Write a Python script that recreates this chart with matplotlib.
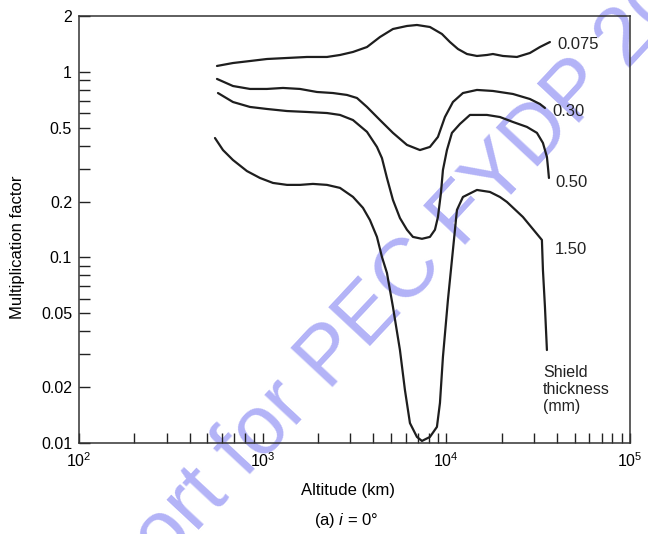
import matplotlib
matplotlib.use("Agg")
import matplotlib.pyplot as plt
from matplotlib.ticker import FixedLocator, NullFormatter

plt.rcParams['font.family'] = ['Liberation Sans', 'DejaVu Sans']
plt.rcParams['mathtext.fontset'] = 'custom'
plt.rcParams['mathtext.rm'] = 'Liberation Sans'
plt.rcParams['mathtext.it'] = 'Liberation Sans:italic'

# ---- data (altitude km, multiplication factor) ----
alt_0075 = [564, 689, 853, 1055, 1357, 1743, 2239, 2636, 3102, 3698, 4352, 5121, 6103,
            6918, 8141, 9464, 10462, 11568, 12950, 14677, 16635, 17934, 20330, 24232,
            28518, 32330, 36644]
mf_0075 = [1.076, 1.116, 1.144, 1.173, 1.188, 1.203, 1.203, 1.233, 1.280, 1.361, 1.541,
           1.702, 1.767, 1.789, 1.745, 1.600, 1.448, 1.328, 1.248, 1.218, 1.233, 1.248,
           1.218, 1.203, 1.264, 1.361, 1.448]

alt_030 = [564, 689, 853, 1055, 1290, 1596, 1975, 2414, 2876, 3261, 3698, 4352, 5121,
           6103, 7183, 8141, 9000, 9826, 10863, 12314, 14677, 17934, 23049, 28518,
           32330, 34430]
mf_030 = [0.916, 0.839, 0.809, 0.809, 0.819, 0.809, 0.779, 0.769, 0.751, 0.723, 0.647,
          0.550, 0.469, 0.404, 0.379, 0.394, 0.446, 0.571, 0.688, 0.769, 0.799, 0.789,
          0.760, 0.714, 0.671, 0.639]

alt_050 = [571, 689, 853, 1055, 1357, 1743, 2239, 2636, 3102, 3698, 4190, 4461, 4750,
           5121, 5590, 6103, 6579, 7366, 8141, 8670, 9000, 9346, 9583, 10076, 10727,
           11862, 13446, 16635, 19580, 23049, 27470, 31140, 33570, 35290, 35740, 36200]
mf_050 = [0.769, 0.688, 0.647, 0.631, 0.615, 0.608, 0.600, 0.586, 0.550, 0.475, 0.394,
          0.343, 0.268, 0.204, 0.163, 0.141, 0.129, 0.126, 0.129, 0.141, 0.165, 0.2225,
          0.296, 0.379, 0.469, 0.524, 0.586, 0.586, 0.571, 0.537, 0.505, 0.469, 0.414,
          0.348, 0.307, 0.268]

alt_150 = [550, 608, 689, 821, 967, 1138, 1357, 1596, 1878, 2239, 2636, 3102, 3516, 3838,
           4190, 4461, 4750, 5121, 5590, 5951, 6337, 6918, 7366, 8141, 8888, 9231, 9583,
           10202, 10863, 11422, 12314, 14677, 17280, 19580, 21380, 26120, 33140, 33570,
           34430, 35290]
mf_150 = [0.440, 0.379, 0.335, 0.292, 0.268, 0.252, 0.246, 0.246, 0.249, 0.246, 0.237,
          0.212, 0.185, 0.159, 0.129, 0.1006, 0.0825, 0.0541, 0.0317, 0.0193, 0.0128,
          0.01078, 0.01026, 0.01078, 0.01221, 0.01643, 0.0291, 0.0590, 0.1097, 0.1802,
          0.2117, 0.2310, 0.2253, 0.2117, 0.1990, 0.1652, 0.1242, 0.0856, 0.0541, 0.0317]

curve_labels = ["0.075", "0.30", "0.50", "1.50"]
label_x = [40000, 38000, 39000, 39000]
label_y = [1.396, 0.608, 0.252, 0.110]

y_major = [0.01, 0.02, 0.05, 0.1, 0.2, 0.5, 1, 2]
y_major_labels = ["0.01", "0.02", "0.05", "0.1", "0.2", "0.5", "1", "2"]
y_minor = [0.03, 0.04, 0.06, 0.07, 0.08, 0.09, 0.3, 0.4, 0.6, 0.7, 0.8, 0.9]

fig = plt.figure(figsize=(6.48, 5.34), dpi=100)
ax = fig.add_axes([79/648, 1-443/534, (630-79)/648, (443-16)/534])
ax.set_facecolor('none')

# watermark (behind the chart)
fig.text(391/648, 1-292/534, "Report for PEC FYDP 2023", fontsize=60, color='#b3b3f7',
         rotation=47, rotation_mode='anchor', ha='center', va='center', zorder=-5)

lc = '#1e1e1e'
for a, m in [(alt_0075, mf_0075), (alt_030, mf_030), (alt_050, mf_050), (alt_150, mf_150)]:
    ax.plot(a, m, color=lc, lw=1.6, solid_joinstyle='round', solid_capstyle='round', zorder=3)

ax.set_xscale('log')
ax.set_yscale('log')
ax.set_xlim(1e2, 1e5)
ax.set_ylim(0.01, 2)

ax.yaxis.set_major_locator(FixedLocator(y_major))
ax.set_yticklabels(y_major_labels)
ax.yaxis.set_minor_locator(FixedLocator(y_minor))
ax.yaxis.set_minor_formatter(NullFormatter())

ax.tick_params(axis='both', which='both', direction='in', top=False, right=False,
               width=1.0, color='#222222')
ax.tick_params(axis='y', which='both', length=8, labelsize=11.5, pad=5)
ax.tick_params(axis='x', which='both', length=7, labelsize=11.5, pad=6)

for s in ax.spines.values():
    s.set_linewidth(1.1)
    s.set_color('#333333')

for t, x, y in zip(curve_labels, label_x, label_y):
    ax.text(x, y, t, fontsize=12, ha='left', va='center', color='#222222', zorder=4)
ax.text(33600, 0.0262, "Shield\nthickness\n(mm)", fontsize=11.5, ha='left', va='top',
        color='#222222', linespacing=1.15, zorder=4)

ax.set_ylabel("Multiplication factor", fontsize=12)
ax.yaxis.set_label_coords(-0.098, 0.459)
fig.text(348/648, 1-490/534, "Altitude (km)", fontsize=12, ha='center', va='center')
fig.text(346/648, 1-521/534, "(a) $i$ = 0°", fontsize=12, ha='center', va='center')

fig.savefig("out.png", dpi=100)
